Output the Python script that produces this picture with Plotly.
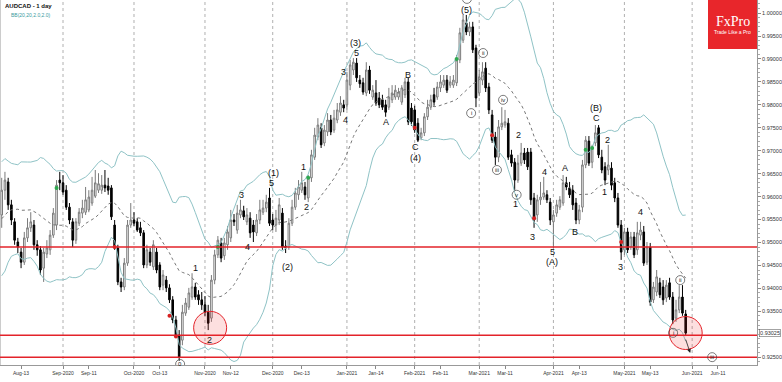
import numpy as np
import pandas as pd
import plotly.graph_objects as go

# ---------------- data (AUDCAD daily) ----------------
start_date = "2020-08-05"

opens = [
    0.9560, 0.9614, 0.9632, 0.9582, 0.9545, 0.9501, 0.9479, 0.9457, 0.9510, 0.9532,
    0.9538, 0.9495, 0.9484, 0.9444, 0.9475, 0.9484, 0.9516, 0.9538, 0.9636, 0.9630,
    0.9614, 0.9577, 0.9545, 0.9505, 0.9542, 0.9564, 0.9566, 0.9571, 0.9586, 0.9601,
    0.9614, 0.9614, 0.9625, 0.9623, 0.9619, 0.9538, 0.9488, 0.9414, 0.9403, 0.9455,
    0.9538, 0.9549, 0.9545, 0.9532, 0.9521, 0.9451, 0.9479, 0.9447, 0.9479, 0.9451,
    0.9407, 0.9418, 0.9401, 0.9375, 0.9331, 0.9298, 0.9287, 0.9346, 0.9359, 0.9381,
    0.9403, 0.9386, 0.9375, 0.9364, 0.9348, 0.9335, 0.9418, 0.9473, 0.9499, 0.9471,
    0.9495, 0.9510, 0.9549, 0.9527, 0.9560, 0.9569, 0.9545, 0.9553, 0.9538, 0.9521,
    0.9549, 0.9566, 0.9575, 0.9597, 0.9549, 0.9538, 0.9549, 0.9564, 0.9492, 0.9490,
    0.9542, 0.9577, 0.9604, 0.9614, 0.9621, 0.9597, 0.9641, 0.9686, 0.9730, 0.9750,
    0.9717, 0.9741, 0.9767, 0.9745, 0.9767, 0.9784, 0.9800, 0.9800, 0.9843, 0.9876,
    0.9891, 0.9854, 0.9848, 0.9826, 0.9876, 0.9817, 0.9826, 0.9815, 0.9811, 0.9800,
    0.9795, 0.9811, 0.9817, 0.9817, 0.9806, 0.9822, 0.9850, 0.9793, 0.9789, 0.9760,
    0.9728, 0.9739, 0.9774, 0.9795, 0.9822, 0.9817, 0.9837, 0.9843, 0.9854, 0.9843,
    0.9843, 0.9848, 0.9898, 0.9941, 0.9978, 0.9959, 0.9970, 0.9924, 0.9826, 0.9854,
    0.9880, 0.9839, 0.9778, 0.9730, 0.9686, 0.9752, 0.9756, 0.9760, 0.9691, 0.9675,
    0.9636, 0.9673, 0.9695, 0.9697, 0.9697, 0.9597, 0.9560, 0.9593, 0.9599, 0.9604,
    0.9588, 0.9545, 0.9564, 0.9577, 0.9586, 0.9630, 0.9619, 0.9614, 0.9586, 0.9549,
    0.9577, 0.9669, 0.9721, 0.9675, 0.9717, 0.9750, 0.9686, 0.9665, 0.9658, 0.9662,
    0.9630, 0.9597, 0.9538, 0.9484, 0.9523, 0.9490, 0.9512, 0.9484, 0.9516, 0.9523,
    0.9457, 0.9490, 0.9375, 0.9392, 0.9412, 0.9403, 0.9379, 0.9412, 0.9381, 0.9335,
    0.9353, 0.9381, 0.9344,
]
highs = [
    0.9641, 0.9654, 0.9641, 0.9593, 0.9553, 0.9510, 0.9488, 0.9523, 0.9553, 0.9566,
    0.9549, 0.9505, 0.9492, 0.9488, 0.9505, 0.9527, 0.9575, 0.9636, 0.9654, 0.9647,
    0.9625, 0.9586, 0.9553, 0.9553, 0.9575, 0.9593, 0.9621, 0.9614, 0.9643, 0.9658,
    0.9651, 0.9647, 0.9658, 0.9641, 0.9625, 0.9549, 0.9495, 0.9423, 0.9466, 0.9549,
    0.9586, 0.9566, 0.9553, 0.9545, 0.9527, 0.9495, 0.9488, 0.9505, 0.9488, 0.9457,
    0.9440, 0.9427, 0.9409, 0.9383, 0.9340, 0.9309, 0.9364, 0.9379, 0.9401, 0.9433,
    0.9412, 0.9396, 0.9392, 0.9383, 0.9364, 0.9429, 0.9484, 0.9514, 0.9510, 0.9510,
    0.9536, 0.9571, 0.9562, 0.9582, 0.9593, 0.9580, 0.9575, 0.9566, 0.9549, 0.9562,
    0.9593, 0.9593, 0.9604, 0.9619, 0.9562, 0.9571, 0.9597, 0.9575, 0.9505, 0.9553,
    0.9593, 0.9619, 0.9636, 0.9654, 0.9632, 0.9647, 0.9702, 0.9750, 0.9771, 0.9760,
    0.9756, 0.9782, 0.9778, 0.9789, 0.9804, 0.9819, 0.9811, 0.9872, 0.9898, 0.9902,
    0.9902, 0.9865, 0.9859, 0.9893, 0.9885, 0.9843, 0.9854, 0.9828, 0.9822, 0.9811,
    0.9837, 0.9843, 0.9843, 0.9837, 0.9843, 0.9859, 0.9859, 0.9804, 0.9798, 0.9771,
    0.9750, 0.9782, 0.9811, 0.9822, 0.9837, 0.9850, 0.9865, 0.9865, 0.9865, 0.9863,
    0.9865, 0.9909, 0.9968, 0.9996, 0.9996, 0.9981, 0.9981, 0.9931, 0.9876, 0.9893,
    0.9893, 0.9848, 0.9789, 0.9741, 0.9767, 0.9795, 0.9789, 0.9771, 0.9702, 0.9684,
    0.9691, 0.9717, 0.9706, 0.9706, 0.9706, 0.9608, 0.9604, 0.9632, 0.9643, 0.9614,
    0.9597, 0.9571, 0.9593, 0.9601, 0.9647, 0.9643, 0.9632, 0.9625, 0.9597, 0.9582,
    0.9680, 0.9732, 0.9732, 0.9713, 0.9756, 0.9756, 0.9702, 0.9675, 0.9713, 0.9675,
    0.9641, 0.9608, 0.9549, 0.9532, 0.9532, 0.9523, 0.9523, 0.9545, 0.9545, 0.9536,
    0.9501, 0.9499, 0.9414, 0.9440, 0.9423, 0.9418, 0.9418, 0.9423, 0.9392, 0.9375,
    0.9407, 0.9407, 0.9353,
]
lows = [
    0.9532, 0.9593, 0.9571, 0.9538, 0.9495, 0.9477, 0.9444, 0.9451, 0.9501, 0.9523,
    0.9484, 0.9471, 0.9429, 0.9414, 0.9466, 0.9473, 0.9510, 0.9527, 0.9614, 0.9604,
    0.9571, 0.9540, 0.9490, 0.9497, 0.9536, 0.9553, 0.9560, 0.9566, 0.9580, 0.9597,
    0.9608, 0.9606, 0.9610, 0.9604, 0.9549, 0.9484, 0.9407, 0.9392, 0.9396, 0.9449,
    0.9532, 0.9536, 0.9523, 0.9514, 0.9444, 0.9444, 0.9449, 0.9440, 0.9433, 0.9396,
    0.9396, 0.9392, 0.9368, 0.9324, 0.9292, 0.9242, 0.9276, 0.9340, 0.9353, 0.9375,
    0.9375, 0.9364, 0.9353, 0.9340, 0.9309, 0.9327, 0.9409, 0.9466, 0.9457, 0.9462,
    0.9484, 0.9501, 0.9536, 0.9519, 0.9553, 0.9549, 0.9538, 0.9510, 0.9501, 0.9514,
    0.9540, 0.9560, 0.9566, 0.9536, 0.9527, 0.9523, 0.9538, 0.9484, 0.9477, 0.9484,
    0.9536, 0.9571, 0.9593, 0.9608, 0.9593, 0.9588, 0.9632, 0.9680, 0.9723, 0.9706,
    0.9710, 0.9732, 0.9734, 0.9739, 0.9760, 0.9776, 0.9784, 0.9789, 0.9832, 0.9865,
    0.9850, 0.9837, 0.9822, 0.9819, 0.9824, 0.9811, 0.9798, 0.9793, 0.9789, 0.9774,
    0.9789, 0.9804, 0.9811, 0.9811, 0.9800, 0.9815, 0.9756, 0.9754, 0.9739, 0.9719,
    0.9723, 0.9732, 0.9767, 0.9789, 0.9798, 0.9811, 0.9828, 0.9837, 0.9826, 0.9837,
    0.9837, 0.9841, 0.9891, 0.9935, 0.9952, 0.9950, 0.9913, 0.9795, 0.9819, 0.9843,
    0.9828, 0.9780, 0.9717, 0.9669, 0.9675, 0.9745, 0.9750, 0.9680, 0.9665, 0.9614,
    0.9630, 0.9667, 0.9671, 0.9658, 0.9582, 0.9532, 0.9545, 0.9582, 0.9593, 0.9586,
    0.9538, 0.9488, 0.9556, 0.9571, 0.9580, 0.9614, 0.9597, 0.9571, 0.9540, 0.9540,
    0.9566, 0.9662, 0.9667, 0.9662, 0.9710, 0.9684, 0.9651, 0.9625, 0.9647, 0.9614,
    0.9588, 0.9532, 0.9462, 0.9473, 0.9477, 0.9484, 0.9466, 0.9473, 0.9505, 0.9449,
    0.9451, 0.9362, 0.9368, 0.9383, 0.9379, 0.9364, 0.9370, 0.9375, 0.9322, 0.9327,
    0.9346, 0.9340, 0.9296,
]
closes = [
    0.9614, 0.9636, 0.9582, 0.9549, 0.9505, 0.9490, 0.9457, 0.9510, 0.9532, 0.9545,
    0.9495, 0.9484, 0.9440, 0.9479, 0.9488, 0.9516, 0.9564, 0.9625, 0.9630, 0.9610,
    0.9577, 0.9549, 0.9505, 0.9545, 0.9566, 0.9575, 0.9593, 0.9599, 0.9614, 0.9630,
    0.9628, 0.9625, 0.9619, 0.9614, 0.9556, 0.9488, 0.9414, 0.9403, 0.9455, 0.9538,
    0.9549, 0.9542, 0.9527, 0.9521, 0.9451, 0.9484, 0.9457, 0.9495, 0.9440, 0.9403,
    0.9429, 0.9401, 0.9375, 0.9331, 0.9298, 0.9250, 0.9348, 0.9368, 0.9390, 0.9403,
    0.9381, 0.9375, 0.9364, 0.9348, 0.9324, 0.9418, 0.9473, 0.9505, 0.9466, 0.9499,
    0.9523, 0.9549, 0.9545, 0.9564, 0.9571, 0.9556, 0.9560, 0.9521, 0.9523, 0.9549,
    0.9571, 0.9575, 0.9588, 0.9542, 0.9538, 0.9553, 0.9582, 0.9490, 0.9488, 0.9542,
    0.9577, 0.9608, 0.9621, 0.9630, 0.9604, 0.9641, 0.9691, 0.9734, 0.9756, 0.9713,
    0.9745, 0.9767, 0.9741, 0.9771, 0.9789, 0.9804, 0.9793, 0.9854, 0.9887, 0.9893,
    0.9859, 0.9846, 0.9828, 0.9876, 0.9832, 0.9832, 0.9804, 0.9800, 0.9795, 0.9784,
    0.9817, 0.9826, 0.9832, 0.9828, 0.9837, 0.9850, 0.9763, 0.9763, 0.9745, 0.9723,
    0.9739, 0.9774, 0.9795, 0.9811, 0.9806, 0.9839, 0.9850, 0.9854, 0.9832, 0.9850,
    0.9854, 0.9898, 0.9957, 0.9985, 0.9959, 0.9970, 0.9920, 0.9815, 0.9861, 0.9872,
    0.9837, 0.9789, 0.9723, 0.9686, 0.9752, 0.9760, 0.9763, 0.9686, 0.9673, 0.9636,
    0.9673, 0.9695, 0.9680, 0.9665, 0.9593, 0.9549, 0.9593, 0.9599, 0.9608, 0.9593,
    0.9549, 0.9560, 0.9582, 0.9593, 0.9630, 0.9621, 0.9604, 0.9582, 0.9549, 0.9571,
    0.9669, 0.9723, 0.9673, 0.9706, 0.9739, 0.9691, 0.9658, 0.9636, 0.9669, 0.9625,
    0.9597, 0.9538, 0.9479, 0.9523, 0.9484, 0.9512, 0.9473, 0.9521, 0.9527, 0.9455,
    0.9490, 0.9370, 0.9403, 0.9425, 0.9386, 0.9375, 0.9407, 0.9381, 0.9331, 0.9353,
    0.9381, 0.9346, 0.93025,
]
# closes of the 20 sessions before the window (only used to warm up the bands)
pre_closes = [0.9450, 0.9465, 0.9442, 0.9470, 0.9488, 0.9480, 0.9505, 0.9520, 0.9512, 0.9535,
              0.9558, 0.9570, 0.9555, 0.9590, 0.9615, 0.9600, 0.9630, 0.9650, 0.9625, 0.9610]

tick_dates = ["2020-08-13", "2020-09-01", "2020-09-11", "2020-10-01", "2020-10-13",
              "2020-11-02", "2020-11-12", "2020-12-01", "2020-12-14", "2021-01-01",
              "2021-01-14", "2021-02-01", "2021-02-11", "2021-03-01", "2021-03-11",
              "2021-04-01", "2021-04-13", "2021-05-03", "2021-05-13", "2021-06-01",
              "2021-06-11"]
tick_labels = ["Aug-13", "Sep-2020", "Sep-11", "Oct-2020", "Oct-13", "Nov-2020", "Nov-12",
               "Dec-2020", "Dec-13", "Jan-2021", "Jan-14", "Feb-2021", "Feb-11", "Mar-2021",
               "Mar-11", "Apr-2021", "Apr-13", "May-2021", "May-13", "Jun-2021", "Jun-11"]

price_ticks = [0.925, 0.935, 0.940, 0.945, 0.950, 0.955, 0.960, 0.965, 0.970,
               0.975, 0.980, 0.985, 0.990, 0.995, 1.000]
current_price_label = "0.93025"

support_levels = [0.9490, 0.9298, 0.9250]

# wave labels: text, bar position, price
wave_text = ["1", "2", "3", "4", "5", "(1)", "(2)", "1", "2", "3", "4", "5", "(3)",
             "A", "B", "C", "(4)", "(5)", "1", "2", "3", "4", "5", "(A)", "A", "B",
             "C", "(B)", "2", "1", "3", "4"]
wave_pos = [60.2, 64.3, 74.2, 76.3, 83.5, 84.1, 88.7, 93.4, 94.6, 105.8, 106.7, 110.1, 109.8,
            119.1, 125.9, 128.1, 128.1, 144.2, 159.3, 160.3, 164.4, 168.1, 170.6, 170.6, 174.6, 177.7,
            184.5, 184.2, 187.9, 186.7, 191.7, 197.9]
wave_price = [0.9444, 0.9287, 0.9603, 0.9490, 0.9630, 0.9651, 0.9447, 0.9665, 0.9577, 0.9872, 0.9767, 0.9913, 0.9935,
              0.9763, 0.9865, 0.9708, 0.9684, 1.0007, 0.9584, 0.9734, 0.9512, 0.9654, 0.9479, 0.9457, 0.9662, 0.9523,
              0.9771, 0.9793, 0.9723, 0.9610, 0.9447, 0.9567]

circ_text = ["0", "i", "i", "ii", "iii", "iv", "v", "i", "ii", "iii"]
circ_pos = [55.3, 144.2, 145.5, 149.2, 153.5, 155.4, 159.6, 208.1, 210.3, 220.2]
circ_price = [0.9235, 1.0031, 0.9782, 0.9913, 0.9658, 0.9811, 0.9604, 0.9303, 0.9418, 0.9250]

green_pos = [17, 67, 95, 141, 181, 183]
green_price = [0.9619, 0.9490, 0.9641, 0.9900, 0.9702, 0.9706]
red_pos = [35, 52, 54, 128, 152, 165, 192]
red_price = [0.9490, 0.9340, 0.9295, 0.9750, 0.9734, 0.9553, 0.9501]

highlight_pos = [64.6, 212.0]
highlight_price = [0.9314, 0.93026]

# ---------------- derived ----------------
n = len(closes)
dates = pd.bdate_range(start_date, periods=n + 40)
x = np.arange(n)

allc = pd.Series(pre_closes + closes)
mid = allc.rolling(20).mean()
sd = allc.rolling(20).std(ddof=0)
k = len(pre_closes)
bb_mid = mid.values[k:]
bb_up = (mid + 2 * sd).values[k:]
bb_lo = (mid - 2 * sd).values[k:]

tick_pos = [int(dates.searchsorted(pd.Timestamp(d))) for d in tick_dates]
month_pos = [p for p, t in zip(tick_pos, tick_labels) if t[-4:].isdigit()]

FONT = "Liberation Sans"

fig = go.Figure()
fig.add_trace(go.Scatter(x=x, y=bb_up, mode="lines", line=dict(color="#8fc3c6", width=1),
                         hoverinfo="skip", showlegend=False))
fig.add_trace(go.Scatter(x=x, y=bb_lo, mode="lines", line=dict(color="#8fc3c6", width=1),
                         hoverinfo="skip", showlegend=False))
fig.add_trace(go.Scatter(x=x, y=bb_mid, mode="lines", line=dict(color="#777777", width=1, dash="dot"),
                         hoverinfo="skip", showlegend=False))
fig.add_trace(go.Candlestick(
    x=x, open=opens, high=highs, low=lows, close=closes,
    increasing=dict(line=dict(color="#7a7a7a", width=1), fillcolor="#ffffff"),
    decreasing=dict(line=dict(color="#000000", width=1), fillcolor="#000000"),
    whiskerwidth=0, showlegend=False, hoverinfo="skip"))
fig.add_trace(go.Scatter(x=green_pos, y=green_price, mode="markers",
                         marker=dict(color="#2fa84f", size=4), hoverinfo="skip", showlegend=False))
fig.add_trace(go.Scatter(x=red_pos, y=red_price, mode="markers",
                         marker=dict(color="#d62020", size=4), hoverinfo="skip", showlegend=False))

shapes = []
shapes.append(dict(type="line", xref="paper", yref="paper", x0=0, x1=0, y0=0, y1=1,
                   line=dict(color="#999", width=1)))
for p in month_pos:
    shapes.append(dict(type="line", xref="x", yref="paper", x0=p, x1=p, y0=0, y1=1,
                       line=dict(color="#b0b0b0", width=1, dash="dot"), layer="below"))
for lv in support_levels:
    shapes.append(dict(type="line", xref="paper", yref="y", x0=0, x1=1, y0=lv, y1=lv,
                       line=dict(color="#e3232a", width=1.5)))
for cx, cy in zip(highlight_pos, highlight_price):
    shapes.append(dict(type="circle", xref="x", yref="y", xsizemode="pixel", ysizemode="pixel",
                       xanchor=cx, yanchor=cy, x0=-16.5, x1=16.5, y0=-16.5, y1=16.5,
                       fillcolor="rgba(240,40,40,0.15)", line=dict(color="#e3232a", width=1)))
for cx, cy in zip(circ_pos, circ_price):
    shapes.append(dict(type="circle", xref="x", yref="y", xsizemode="pixel", ysizemode="pixel",
                       xanchor=cx, yanchor=cy, x0=-4.5, x1=4.5, y0=-4.5, y1=4.5,
                       line=dict(color="#444", width=0.7)))
# logo block
shapes.append(dict(type="rect", xref="paper", yref="paper", x0=708 / 757, x1=1.0,
                   y0=1 - 49 / 365, y1=1, fillcolor="#e8262b", line=dict(width=0)))

ann = []
ann.append(dict(text="<b>AUDCAD - 1 day</b>", xref="paper", yref="paper", x=0.004, y=0.998,
                xanchor="left", yanchor="top", showarrow=False, font=dict(family=FONT, size=6, color="#111")))
ann.append(dict(text="BB(20,20,2.0,2.0)", xref="paper", yref="paper", x=0.012, y=0.972,
                xanchor="left", yanchor="top", showarrow=False, font=dict(family=FONT, size=5, color="#3a9aa0")))
ann.append(dict(text="FxPro", xref="paper", yref="paper", x=732.5 / 757, y=1 - 22 / 365,
                xanchor="center", yanchor="middle", showarrow=False,
                font=dict(family="Liberation Serif", size=14, color="#ffffff")))
ann.append(dict(text="Trade Like a Pro", xref="paper", yref="paper", x=732.5 / 757, y=1 - 32 / 365,
                xanchor="center", yanchor="middle", showarrow=False,
                font=dict(family=FONT, size=5, color="#ffffff")))
ann.append(dict(text=current_price_label, xref="paper", yref="y", x=1.0, y=closes[-1], xanchor="left",
                yanchor="middle", xshift=2, showarrow=False, bgcolor="#ffffff", bordercolor="#666",
                borderwidth=0.6, borderpad=0.5, font=dict(family=FONT, size=5.5, color="#333")))
for t, px, py in zip(wave_text, wave_pos, wave_price):
    ann.append(dict(text=t, x=px, y=py, xref="x", yref="y", showarrow=False,
                    font=dict(family=FONT, size=9, color="#111")))
for t, px, py in zip(circ_text, circ_pos, circ_price):
    ann.append(dict(text=t, x=px, y=py, xref="x", yref="y", showarrow=False,
                    font=dict(family=FONT, size=6, color="#222")))
ann.append(dict(x=213.4, y=0.9259, xref="x", yref="y", ax=-5, ay=-15, axref="pixel", ayref="pixel",
                showarrow=True, arrowhead=2, arrowsize=1, arrowwidth=0.8, arrowcolor="#222", text=""))

fig.update_layout(
    width=782, height=382,
    margin=dict(l=0, r=25, t=0, b=17),
    paper_bgcolor="#ffffff", plot_bgcolor="#ffffff",
    showlegend=False,
    shapes=shapes, annotations=ann,
    xaxis=dict(range=[-0.53, 234.1], rangeslider=dict(visible=False), showgrid=False, zeroline=False,
               tickmode="array", tickvals=tick_pos, ticktext=tick_labels, ticks="outside", ticklen=3,
               tickangle=0, tickcolor="#888", showline=True, linecolor="#999", linewidth=1,
               tickfont=dict(family=FONT, size=5, color="#333")),
    yaxis=dict(side="right", range=[0.92329, 1.00286], showgrid=False, zeroline=False,
               tickmode="array", tickvals=price_ticks, tickformat=".5f",
               ticks="outside", ticklen=3, tickcolor="#888", showline=True, linecolor="#999",
               linewidth=1, tickfont=dict(family=FONT, size=5.5, color="#333"),
               minor=dict(ticks="outside", ticklen=2, dtick=0.001, tickcolor="#aaa")),
)

fig.write_html("out.html", config={"displayModeBar": False},
               post_script="document.body.style.margin='0';document.body.style.overflow='hidden';")
